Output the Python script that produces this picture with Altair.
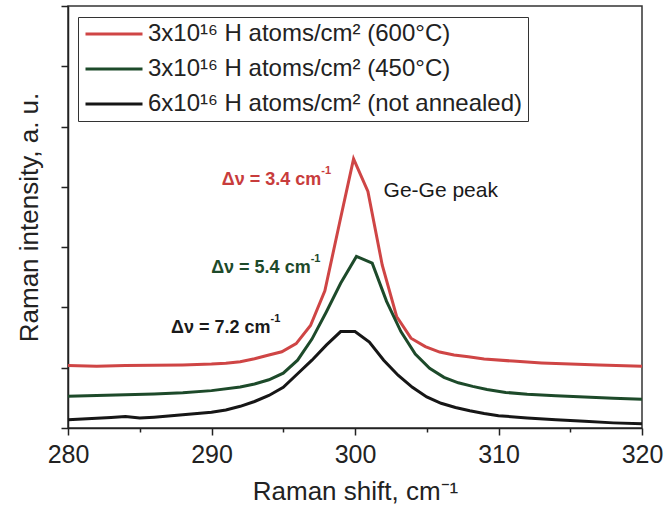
import altair as alt
import pandas as pd

# ---- data ----
series_names = [
    "3x10¹⁶ H atoms/cm² (600°C)",
    "3x10¹⁶ H atoms/cm² (450°C)",
    "6x10¹⁶ H atoms/cm² (not annealed)",
]
series_colors = ["#cf4545", "#1d4a2a", "#161616"]

red_x = [280, 282, 284, 286, 288, 290, 291, 292, 293, 294, 294.9, 295.9, 296.9, 297.9, 298.9, 299.9,
         300.9, 301.9, 302.9, 303.9, 304.9, 305.9, 306.9, 307.9, 309, 311, 313, 315, 317, 320]
red_y = [2.07, 2.05, 2.07, 2.08, 2.09, 2.12, 2.15, 2.20, 2.30, 2.42, 2.53, 2.80, 3.40, 4.55, 6.75, 8.93,
         7.85, 5.40, 3.70, 2.98, 2.70, 2.52, 2.42, 2.36, 2.29, 2.22, 2.16, 2.12, 2.09, 2.05]

green_x = [280, 282, 284, 286, 288, 290, 292, 293, 294, 295, 296, 297, 298, 299, 300.1,
           301.2, 302.2, 303.2, 304.2, 305.2, 306.2, 307.2, 308.2, 309.2, 310.5, 312, 314, 316, 318, 320]
green_y = [1.05, 1.08, 1.10, 1.13, 1.17, 1.24, 1.36, 1.46, 1.60, 1.82, 2.25, 2.95, 3.85, 4.80, 5.69,
           5.47, 4.20, 3.20, 2.45, 1.98, 1.68, 1.50, 1.38, 1.28, 1.18, 1.12, 1.07, 1.03, 0.99, 0.95]

black_x = [280, 281, 282, 283, 284, 285, 286, 287, 288, 289, 290, 291, 292, 293, 294, 295, 296, 297,
           298, 299, 300, 301, 302, 303, 304, 305, 306, 307, 308, 309, 310, 312, 314, 316, 318, 320]
black_y = [0.27, 0.30, 0.32, 0.35, 0.38, 0.33, 0.36, 0.40, 0.44, 0.48, 0.52, 0.60, 0.72, 0.88, 1.08,
           1.35, 1.80, 2.25, 2.75, 3.20, 3.20, 2.85, 2.25, 1.75, 1.35, 1.03, 0.82, 0.68, 0.57, 0.48,
           0.41, 0.33, 0.27, 0.22, 0.17, 0.14]

ann_text = ["Δν = 3.4 cm", "Δν = 5.4 cm", "Δν = 7.2 cm"]
ann_x = [297.65, 296.91, 294.11]
ann_y = [8.24, 5.32, 3.32]
ann_color = ["#c83c3c", "#1d4a2a", "#1a1a1a"]
peak_text = ["Ge-Ge peak"]
peak_x = [301.99]
peak_y = [7.85]

FONT = "Liberation Sans"

rows = []
for name, xs, ys in zip(series_names, [red_x, green_x, black_x], [red_y, green_y, black_y]):
    for x, y in zip(xs, ys):
        rows.append({"shift": x, "intensity": y, "series": name})
df = pd.DataFrame(rows)

ann_df = pd.DataFrame({"text": ann_text, "x": ann_x, "y": ann_y, "color": ann_color, "sup": ["-1"] * 3})
peak_df = pd.DataFrame({"text": peak_text, "x": peak_x, "y": peak_y})

x_scale = alt.Scale(domain=[280, 320], nice=False, zero=False)
y_scale = alt.Scale(domain=[0, 14], nice=False, zero=False)

x_axis = alt.Axis(
    values=list(range(280, 321, 5)),
    labelExpr="datum.value % 10 === 0 ? datum.label : ''",
    tickSize={"condition": {"test": "datum.value % 10 === 0", "value": 7}, "value": 4},
    grid=False,
    title="Raman shift, cm⁻¹",
    labelFontSize=25,
    titleFontSize=26,
    labelPadding=7,
    titlePadding=11,
    labelFlush=False,
)
y_axis = alt.Axis(
    values=list(range(0, 15)),
    labels=False,
    tickSize=7,
    grid=False,
    title="Raman intensity, a. u.",
    titleFontSize=26,
    titlePadding=18,
)

lines = alt.Chart(df).mark_line(strokeWidth=3).encode(
    x=alt.X("shift:Q", scale=x_scale, axis=x_axis),
    y=alt.Y("intensity:Q", scale=y_scale, axis=y_axis),
    color=alt.Color(
        "series:N",
        scale=alt.Scale(domain=series_names, range=series_colors),
        sort=series_names,
        legend=alt.Legend(
            orient="none",
            legendX=10,
            legendY=11,
            title=None,
            symbolType="M-3,0L3,0",
            symbolSize=361,
            symbolStrokeWidth=3,
            symbolOffset=19,
            labelOffset=22,
            labelFontSize=24,
            labelFont=FONT,
            labelColor="#222",
            labelLimit=800,
            strokeColor="#333",
            fillColor="white",
            padding=5,
            rowPadding=11,
        ),
    ),
    order=alt.Order("shift:Q"),
)

ann_main = alt.Chart(ann_df).mark_text(
    align="right", baseline="middle", fontSize=18, fontWeight="bold", font=FONT
).encode(
    x=alt.X("x:Q", scale=x_scale),
    y=alt.Y("y:Q", scale=y_scale),
    text="text:N",
    color=alt.Color("color:N", scale=None),
)
ann_sup = alt.Chart(ann_df).mark_text(
    align="left", baseline="middle", fontSize=11, fontWeight="bold", font=FONT, dy=-9, dx=0
).encode(
    x=alt.X("x:Q", scale=x_scale),
    y=alt.Y("y:Q", scale=y_scale),
    text="sup:N",
    color=alt.Color("color:N", scale=None),
)
peak = alt.Chart(peak_df).mark_text(
    align="left", baseline="middle", fontSize=21, font=FONT, color="#1a1a1a"
).encode(
    x=alt.X("x:Q", scale=x_scale),
    y=alt.Y("y:Q", scale=y_scale),
    text="text:N",
)

chart = (
    alt.layer(lines, ann_main, ann_sup, peak)
    .properties(
        width=574,
        height=422,
        autosize=alt.AutoSizeParams(type="none"),
        padding={"left": 68, "top": 6, "right": 24, "bottom": 86},
        background="white",
    )
    .configure_view(stroke="#333", strokeWidth=1.5)
    .configure_axis(
        domainColor="#222",
        domainWidth=1.5,
        tickColor="#222",
        tickWidth=1.5,
        labelColor="#222",
        titleColor="#222",
        labelFont=FONT,
        titleFont=FONT,
        titleFontWeight="normal",
    )
    .configure_text(font=FONT)
)

chart.save("out.html", embed_options={"renderer": "svg", "actions": False})
